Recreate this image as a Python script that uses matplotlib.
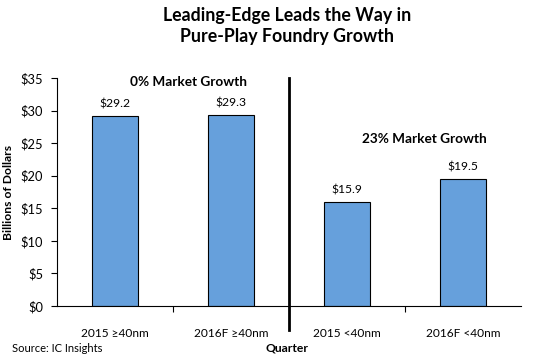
import matplotlib
matplotlib.use("Agg")
import matplotlib.pyplot as plt

categories = ["2015 \u226540nm", "2016F \u226540nm", "2015 <40nm", "2016F <40nm"]
values = [29.2, 29.3, 15.9, 19.5]
yticks = [0, 5, 10, 15, 20, 25, 30, 35]
ytick_labels = ["$0", "$5", "$10", "$15", "$20", "$25", "$30", "$35"]

plt.rcParams['font.family'] = ['Lato', 'DejaVu Sans']

fig = plt.figure(figsize=(5.48, 3.55), dpi=100)
ax = fig.add_axes([57/548, 1-306/355, 464/548, 228/355])

x = list(range(len(categories)))
ax.bar(x, values, width=0.4, color="#66A0DC", edgecolor="black", linewidth=0.8, zorder=2)
for xi, v in zip(x, values):
    ax.text(xi, v + 1.0, f"${v:.1f}", ha="center", va="bottom", fontsize=8.7)

ax.set_xlim(-0.5, 3.5)
ax.set_ylim(0, 35)
ax.set_yticks(yticks)
ax.set_yticklabels(ytick_labels, fontsize=9.3)
ax.set_xticks(x)
ax.set_xticklabels(categories, fontsize=8.6)
ax.tick_params(axis='x', length=0, pad=16)
ax.tick_params(axis='y', length=4, direction='out', width=0.8, pad=6)
ax.set_xticks([0.5, 1.5, 2.5], minor=True)
ax.tick_params(axis='x', which='minor', length=4, direction='out', width=0.8)
for s in ["top", "right"]:
    ax.spines[s].set_visible(False)
ax.spines["left"].set_linewidth(0.8)
ax.spines["bottom"].set_linewidth(0.8)

ax.set_ylabel("Billions of Dollars", fontsize=8.7, fontweight="bold", labelpad=5)

ax.axvline(1.5, ymin=-0.105, ymax=1.0, color="black", linewidth=2.0, clip_on=False, zorder=3)

ax.text(0.63, 34.4, "0% Market Growth", ha="center", va="center", fontsize=9.8, fontweight="bold")
ax.text(2.67, 25.6, "23% Market Growth", ha="center", va="center", fontsize=9.8, fontweight="bold")

fig.text(287/548, 1-26/355, "Leading-Edge Leads the Way in\nPure-Play Foundry Growth",
         ha="center", va="center", fontsize=12.8, fontweight="bold", linespacing=1.3)
fig.text(12/548, 1-348/355, "Source: IC Insights", ha="left", va="center", fontsize=8)
fig.text(287/548, 1-348/355, "Quarter", ha="center", va="center", fontsize=8.7, fontweight="bold")

fig.savefig("out.png", dpi=100)
